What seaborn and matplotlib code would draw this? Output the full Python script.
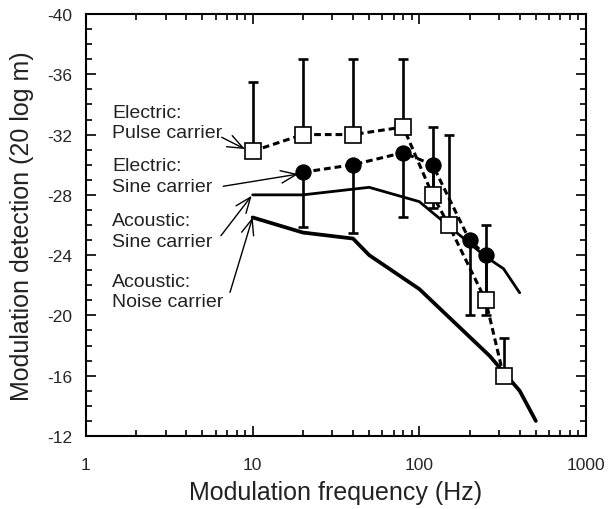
import numpy as np
import pandas as pd
import matplotlib
matplotlib.use("Agg")
import matplotlib.pyplot as plt
import seaborn as sns
from matplotlib.ticker import FixedLocator, NullFormatter

# ---------------- data ----------------
pulse_x = [10, 20, 40, 80, 120, 150, 250, 320]
pulse_y = [-30.9, -32.0, -32.0, -32.5, -28.0, -26.0, -21.0, -16.0]
pulse_err = [4.6, 5.0, 5.0, 4.5, 4.5, 6.0, 5.0, 2.5]      # toward more negative

esine_x = [20, 40, 80, 120, 200, 250]
esine_y = [-29.5, -30.0, -30.8, -30.0, -25.0, -24.0]
esine_err = [3.6, 4.5, 4.3, 2.9, 5.0, 4.0]                 # toward less negative

asine_x = [10, 20, 50, 100, 250, 320, 400]
asine_y = [-28.0, -28.0, -28.5, -27.55, -23.9, -23.1, -21.5]

noise_x = [10, 20, 40, 50, 100, 265, 300, 400, 500]
noise_y = [-26.5, -25.5, -25.1, -24.0, -21.75, -17.3, -16.6, -15.0, -13.0]

x_ticks = [1, 10, 100, 1000]
x_ticklabels = ["1", "10", "100", "1000"]
y_ticks = [-40, -36, -32, -28, -24, -20, -16, -12]
y_ticklabels = ["-40", "-36", "-32", "-28", "-24", "-20", "-16", "-12"]

labels = ["Electric:\nPulse carrier", "Electric:\nSine carrier",
          "Acoustic:\nSine carrier", "Acoustic:\nNoise carrier"]
label_pos = [(1.43, -32.8), (1.43, -29.27), (1.43, -25.58), (1.43, -21.59)]
arrow_tail = [(6.52, -31.82), (6.66, -28.57), (6.45, -25.29), (7.31, -21.53)]
arrow_head = [(8.99, -31.04), (18.78, -29.38), (9.86, -27.94), (10.0, -26.51)]

xlabel = "Modulation frequency (Hz)"
ylabel = "Modulation detection (20 log m)"

# ---------------- style ----------------
sns.set_style("ticks")
plt.rcParams["font.family"] = ["Liberation Sans", "DejaVu Sans"]
plt.rcParams["axes.unicode_minus"] = False

fig = plt.figure(figsize=(6.08, 5.10), dpi=100)
ax = fig.add_axes([86 / 608, 1 - 437 / 510, 500 / 608, 422 / 510])
ax.set_xscale("log")

pulse_df = pd.DataFrame({"f": pulse_x, "v": pulse_y})
esine_df = pd.DataFrame({"f": esine_x, "v": esine_y})
asine_df = pd.DataFrame({"f": asine_x, "v": asine_y})
noise_df = pd.DataFrame({"f": noise_x, "v": noise_y})

# acoustic lines
sns.lineplot(data=noise_df, x="f", y="v", ax=ax, color="black", lw=2.7,
             sort=False, zorder=2, solid_joinstyle="miter")
sns.lineplot(data=asine_df, x="f", y="v", ax=ax, color="black", lw=2.0,
             sort=False, zorder=2, solid_joinstyle="miter")

# error bars
ax.errorbar(pulse_x, pulse_y, yerr=[pulse_err, [0] * len(pulse_err)],
            fmt="none", ecolor="black", elinewidth=1.9, capsize=3.4,
            capthick=1.9, zorder=3)
ax.errorbar(esine_x, esine_y, yerr=[[0] * len(esine_err), esine_err],
            fmt="none", ecolor="black", elinewidth=1.9, capsize=3.4,
            capthick=1.9, zorder=3)

# electric series (dashed with markers)
sns.lineplot(data=esine_df, x="f", y="v", ax=ax, color="black", lw=2.2,
             linestyle=(0, (2.2, 1.3)), marker="o", markersize=11,
             markerfacecolor="black", markeredgecolor="black",
             sort=False, zorder=4)
sns.lineplot(data=pulse_df, x="f", y="v", ax=ax, color="black", lw=2.2,
             linestyle=(0, (2.2, 1.3)), marker="s", markersize=11,
             markerfacecolor="white", markeredgecolor="black",
             markeredgewidth=1.2, sort=False, zorder=5)

# annotations
for txt, pos in zip(labels, label_pos):
    ax.text(pos[0], pos[1], txt, ha="left", va="center", fontsize=14,
            linespacing=1.3, color="#222222")
for tail, head in zip(arrow_tail, arrow_head):
    ax.annotate("", xy=head, xytext=tail, fontsize=14,
                arrowprops=dict(arrowstyle="->,head_length=0.8,head_width=0.32",
                                lw=1.0, color="black", shrinkA=0, shrinkB=0))

# axes
ax.set_xlim(1, 1000)
ax.set_ylim(-12, -40)
ax.xaxis.set_major_locator(FixedLocator(x_ticks))
ax.set_xticklabels(x_ticklabels)
ax.xaxis.set_minor_locator(FixedLocator(
    [m * 10 ** e for e in range(0, 3) for m in range(2, 10)]))
ax.xaxis.set_minor_formatter(NullFormatter())
ax.yaxis.set_major_locator(FixedLocator(y_ticks))
ax.set_yticklabels(y_ticklabels)
ax.yaxis.set_minor_locator(FixedLocator(list(range(-40, -11))))

ax.tick_params(which="both", direction="in", top=True, right=True,
               color="black", width=1.2)
ax.tick_params(which="major", length=7.5)
ax.tick_params(which="minor", length=4)
ax.tick_params(axis="x", which="major", pad=15, labelsize=12.5)
ax.tick_params(axis="y", which="major", pad=10, labelsize=12.5)
for s in ax.spines.values():
    s.set_linewidth(1.5)
    s.set_color("black")

ax.set_xlabel(xlabel, fontsize=18, labelpad=6, color="#222222")
ax.set_ylabel(ylabel, fontsize=18, labelpad=9, color="#222222")

fig.savefig("out.png", dpi=100)
